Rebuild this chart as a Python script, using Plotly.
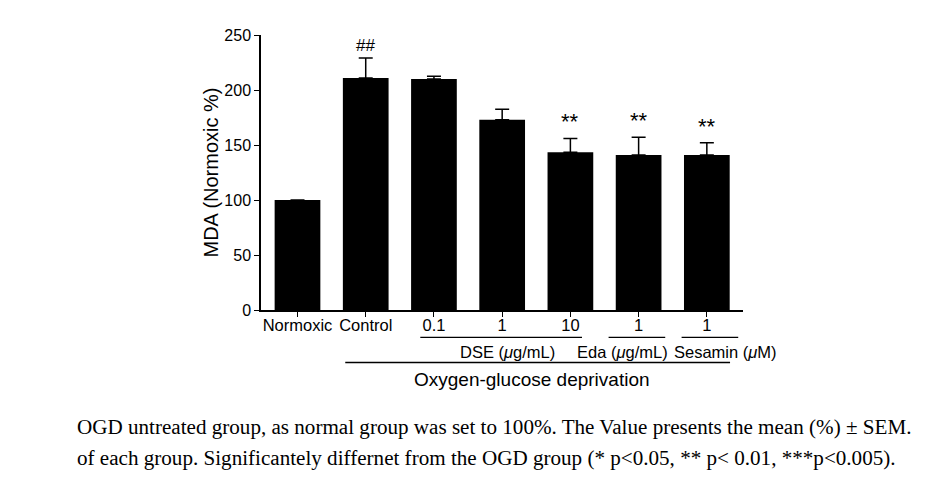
import plotly.graph_objects as go

# ---- data ----
groups = ["Normoxic", "Control", "0.1", "1", "10", "1", "1"]
mda_mean = [100, 211, 210, 173, 143.5, 141, 141]
mda_sem = [0, 18, 2.5, 9.5, 12.5, 16, 11]
sig_marks = ["", "##", "", "", "**", "**", "**"]
y_ticks = [0, 50, 100, 150, 200, 250]

xpos = list(range(len(groups)))
FONT = "Liberation Sans, Arial, sans-serif"
SERIF = "Liberation Serif, Times New Roman, serif"

# page has an 8px body margin; work in screen pixels
OFF = 8
W, H = 932, 480
PLOT_L, PLOT_R, PLOT_T, PLOT_B = 261, 743, 35, 310  # screen px
ML = PLOT_L - OFF
MR = W - (PLOT_R - OFF)
MT = PLOT_T - OFF
MB = H - (PLOT_B - OFF)
PH = PLOT_B - PLOT_T
PW = PLOT_R - PLOT_L

def paper_y(py):
    return (PLOT_B - py) / PH

def paper_x(px):
    return (px - PLOT_L) / PW

fig = go.Figure()
fig.add_trace(go.Bar(
    x=xpos, y=mda_mean, width=0.67,
    marker=dict(color="black", line=dict(width=0)),
    error_y=dict(type="data", array=mda_sem, arrayminus=[0] * len(mda_sem),
                 symmetric=False, color="black", thickness=1.5, width=7),
    showlegend=False,
))

# significance marks above error bars
for i, m in enumerate(sig_marks):
    if not m:
        continue
    top = mda_mean[i] + mda_sem[i]
    fig.add_annotation(x=i, y=top, xref="x", yref="y", text=m, showarrow=False,
                       yanchor="bottom", yshift=1 if m == "##" else 2,
                       font=dict(family=FONT, size=17 if m == "##" else 22, color="black"))

# group brackets under the axis
def bracket(x0, x1, ypix):
    fig.add_shape(type="line", xref="x", yref="paper", x0=x0, x1=x1,
                  y0=paper_y(ypix), y1=paper_y(ypix), line=dict(color="black", width=1.3))

bracket(1.8, 4.17, 337.3)
bracket(4.56, 5.39, 337.3)
bracket(5.63, 6.46, 337.3)
bracket(0.70, 6.34, 362.5)

def label(x, py, text, size, xanchor="center"):
    fig.add_annotation(x=x, y=paper_y(py), xref="x", yref="paper", text=text,
                       showarrow=False, xanchor=xanchor, yanchor="middle",
                       font=dict(family=FONT, size=size, color="black"))

label(3.08, 351.5, "DSE (<i>μ</i>g/mL)", 16.5)
label(4.77, 351.5, "Eda (<i>μ</i>g/mL)", 16.5)
label(5.49, 351.5, "Sesamin (<i>μ</i>M)", 16.5, xanchor="left")
label(3.44, 380, "Oxygen-glucose deprivation", 19)

# caption
cap1 = "OGD untreated group, as normal group was set to 100%. The Value presents the mean (%) ± SEM."
cap2 = "of each group. Significantely differnet from the OGD group (* p<0.05, ** p< 0.01, ***p<0.005)."
for txt, py in [(cap1, 427), (cap2, 458)]:
    fig.add_annotation(x=paper_x(75), y=paper_y(py), xref="paper", yref="paper",
                       text=txt.replace("<", "&lt;"), showarrow=False, xanchor="left",
                       yanchor="middle", font=dict(family=SERIF, size=21.1, color="black"))

fig.update_layout(
    width=W, height=H,
    margin=dict(l=ML, r=MR, t=MT, b=MB, pad=0, autoexpand=False),
    paper_bgcolor="white", plot_bgcolor="white",
    font=dict(family=FONT, color="black"),
)
fig.update_xaxes(
    range=[-0.535, 6.53], tickmode="array", tickvals=xpos, ticktext=groups,
    showline=True, linecolor="black", linewidth=1.5, ticks="outside",
    ticklen=5, tickwidth=1.3, tickcolor="black", showgrid=False, zeroline=False,
    tickfont=dict(family=FONT, size=16.5, color="black"), ticklabelstandoff=-6,
)
fig.update_yaxes(
    range=[0, 250], tickmode="array", tickvals=y_ticks,
    showline=True, linecolor="black", linewidth=1.5, ticks="outside",
    ticklen=5, tickwidth=1.3, tickcolor="black", showgrid=False, zeroline=False,
    tickfont=dict(family=FONT, size=16, color="black"),
    title=dict(text="MDA (Normoxic %)", font=dict(family=FONT, size=20, color="black"),
               standoff=0),
)

fig.write_html("out.html")
